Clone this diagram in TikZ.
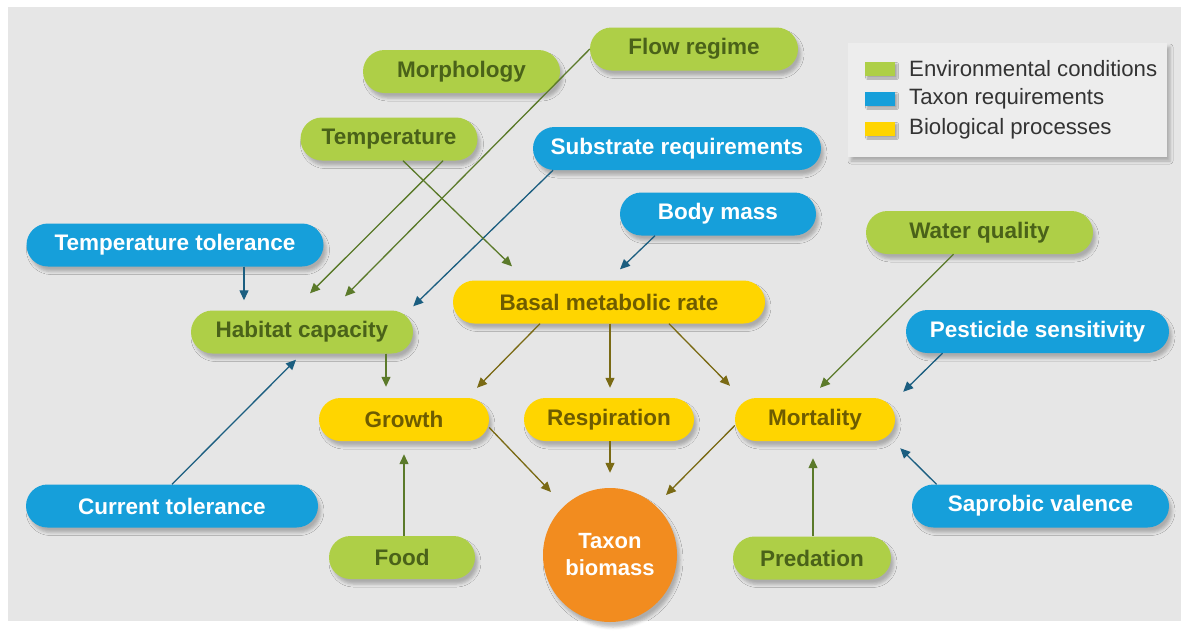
\documentclass[tikz,border=0pt]{standalone}
\usepackage{fontspec}
\setmainfont{Liberation Sans}
\usepackage{tikz}
\usetikzlibrary{arrows.meta,positioning,shadows.blur}
\definecolor{panel}   {HTML}{E6E6E6}
\definecolor{legbg}   {HTML}{EDEDED}
\definecolor{envfill} {HTML}{AECF47}
\definecolor{envtext} {HTML}{4A6219}
\definecolor{reqfill} {HTML}{169FDA}
\definecolor{procfill}{HTML}{FFD500}
\definecolor{proctext}{HTML}{6E5C00}
\definecolor{massfill}{HTML}{F28C1F}
\definecolor{envline} {HTML}{5B7A2A}
\definecolor{reqline} {HTML}{1B5E80}
\definecolor{procline}{HTML}{7A6A14}
\definecolor{legtext} {HTML}{333333}
\tikzset{
  pill/.style     ={rectangle, rounded corners=21.5pt, minimum height=43pt,
                    inner sep=0pt, font=\fontsize{22.5}{26}\selectfont\bfseries,
                    blur shadow={shadow xshift=3pt, shadow yshift=-5pt,
                    shadow blur radius=3pt, shadow opacity=25}},
  env/.style      ={pill, fill=envfill, text=envtext},
  req/.style      ={pill, fill=reqfill, text=white},
  proc/.style     ={pill, fill=procfill, text=proctext},
  envarr/.style   ={-{Triangle[length=10pt,width=9pt]}, line width=1.3pt,
                    draw=envline, fill=envline},
  reqarr/.style   ={-{Triangle[length=10pt,width=9pt]}, line width=1.3pt,
                    draw=reqline, fill=reqline},
  procarr/.style  ={-{Triangle[length=10pt,width=9pt]}, line width=1.3pt,
                    draw=procline, fill=procline},
  swatch/.style   ={minimum width=30pt, minimum height=14pt, inner sep=0pt,
                    blur shadow={shadow xshift=2pt, shadow yshift=-2pt,
                    shadow blur radius=1.5pt, shadow opacity=30}},
  legtxt/.style   ={anchor=west, inner sep=0pt, text=legtext,
                    font=\fontsize{22.2}{24}\selectfont},
}
\begin{document}
\begin{tikzpicture}[x=1pt,y=-1pt]
  \useasboundingbox (0,0) rectangle (1181,630);
  \fill[panel] (8,7) rectangle (1181,621);

  % legend
  \node[fill=legbg, minimum width=319pt, minimum height=114pt, inner sep=0pt,
        blur shadow={shadow xshift=3pt, shadow yshift=-4pt,
        shadow blur radius=3pt, shadow opacity=25}] (legend) at (1007.5,100) {};
  \node[swatch, fill=envfill]  (swenv)  at (880,69)  {};
  \node[swatch, fill=reqfill]  (swreq)  at (880,99)  {};
  \node[swatch, fill=procfill] (swproc) at (880,129) {};
  \node[legtxt] (lgenv)  at (909,69)  {Environmental conditions};
  \node[legtxt] (lgreq)  at (909,99)  {Taxon requirements};
  \node[legtxt] (lgproc) at (909,129) {Biological processes};

  % environmental conditions
  \node[env, minimum width=208pt] (flow)   at (694,49)    {Flow regime};
  \node[env, minimum width=197pt] (morph)  at (461.5,71.5) {Morphology};
  \node[env, minimum width=177pt] (temp)   at (389,139)   {Temperature};
  \node[env, minimum width=227pt] (water)  at (979.5,232.5) {Water quality};
  \node[env, minimum width=222pt] (habitat) at (302,332)  {Habitat capacity};
  \node[env, minimum width=146pt] (food)   at (402,557.5) {Food};
  \node[env, minimum width=158pt] (pred)   at (812,558)   {Predation};

  % taxon requirements
  \node[req, minimum width=288pt] (substr) at (677,148.5) {Substrate requirements};
  \node[req, minimum width=196pt] (body)   at (718,214)   {Body mass};
  \node[req, minimum width=297pt] (temptol) at (175,245)  {Temperature tolerance};
  \node[req, minimum width=263pt] (pest)   at (1037.5,331.5) {Pesticide sensitivity};
  \node[req, minimum width=292pt] (curtol) at (172,506)   {Current tolerance};
  \node[req, minimum width=257pt] (sapro)  at (1040.5,506) {Saprobic valence};

  % biological processes
  \node[proc, minimum width=312pt] (basal)  at (609,302)   {Basal metabolic rate};
  \node[proc, minimum width=170pt] (growth) at (404,419.5) {Growth};
  \node[proc, minimum width=170pt] (resp)   at (609,419.5) {Respiration};
  \node[proc, minimum width=160pt] (mort)   at (815,419.5) {Mortality};

  \node[circle, fill=massfill, minimum size=134pt, inner sep=0pt, text=white,
        align=center, font=\fontsize{22}{27}\selectfont\bfseries,
        blur shadow={shadow xshift=3pt, shadow yshift=-5pt,
        shadow blur radius=3pt, shadow opacity=25}] (taxon) at (610,555) {Taxon\\biomass};

  % into habitat capacity
  \draw[reqarr] ([xshift=69pt]temptol.south) -- ([xshift=-58pt,yshift=10pt]habitat.north);
  \draw[envarr] ([xshift=54pt]temp.south) -- ([xshift=8pt,yshift=17pt]habitat.north);
  \draw[envarr] (flow.west) -- ([xshift=43pt,yshift=14pt]habitat.north);
  \draw[reqarr] ([xshift=-124pt]substr.south) -- ([yshift=4pt]habitat.north east);
  \draw[reqarr] (curtol.north) -- ([xshift=-6pt,yshift=-6pt]habitat.south);

  % into basal metabolic rate
  \draw[envarr] ([xshift=14pt]temp.south) -- ([xshift=-97pt,yshift=14pt]basal.north);
  \draw[reqarr] ([xshift=-63pt]body.south) -- ([xshift=11pt,yshift=11pt]basal.north);

  % processes
  \draw[envarr] ([xshift=84pt]habitat.south) -- ([xshift=-18pt,yshift=11pt]growth.north);
  \draw[procarr] ([xshift=-69pt]basal.south) -- ([xshift=73pt,yshift=10pt]growth.north);
  \draw[procarr] ([xshift=1pt]basal.south) -- ([xshift=1pt,yshift=10pt]resp.north);
  \draw[procarr] ([xshift=60pt]basal.south) -- ([xshift=-85pt,yshift=12pt]mort.north);
  \draw[envarr] ([xshift=2pt]food.north) -- ([yshift=-13pt]growth.south);

  % into mortality
  \draw[envarr] ([xshift=-26pt]water.south) -- ([xshift=5pt,yshift=10pt]mort.north);
  \draw[reqarr] ([xshift=-95pt]pest.south) -- ([xshift=8pt,yshift=6pt]mort.north east);
  \draw[reqarr] ([xshift=-104pt]sapro.north) -- ([xshift=5pt,yshift=-7pt]mort.south east);
  \draw[envarr] ([xshift=1pt]pred.north) -- ([xshift=-2pt,yshift=-17pt]mort.south);

  % into taxon biomass
  \draw[procarr] ([yshift=-8pt]growth.east) -- ([xshift=-59pt,yshift=63pt]taxon.center);
  \draw[procarr] ([xshift=1pt]resp.south) -- ([yshift=15pt]taxon.north);
  \draw[procarr] ([yshift=-6pt]mort.west) -- ([xshift=56pt,yshift=60pt]taxon.center);
\end{tikzpicture}
\end{document}
